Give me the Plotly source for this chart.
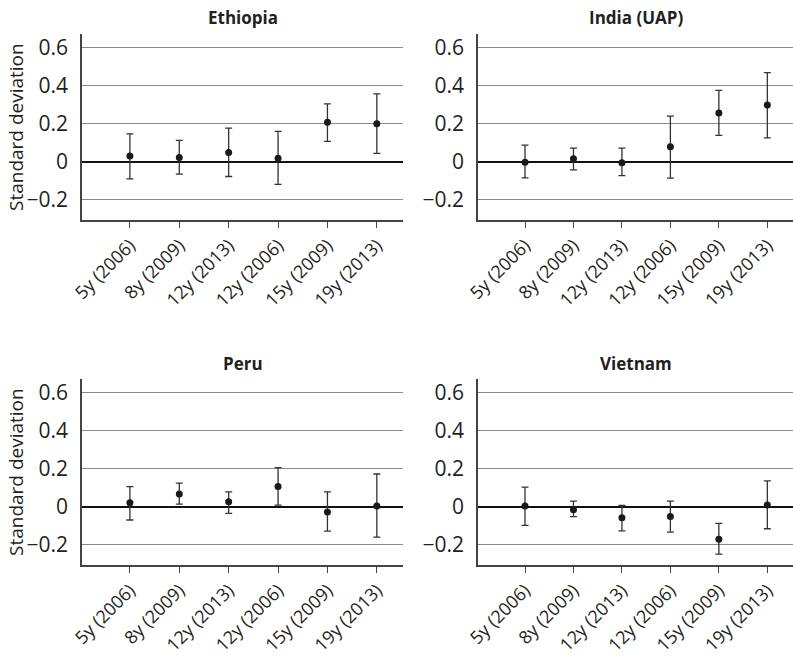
import plotly.graph_objects as go

categories = ["5y (2006)", "8y (2009)", "12y (2013)", "12y (2006)", "15y (2009)", "19y (2013)"]
countries = ["Ethiopia", "India (UAP)", "Peru", "Vietnam"]

ethiopia_est = [0.030, 0.023, 0.049, 0.019, 0.207, 0.200]
ethiopia_hi = [0.146, 0.112, 0.177, 0.160, 0.304, 0.356]
ethiopia_lo = [-0.089, -0.065, -0.077, -0.118, 0.107, 0.044]

india_est = [-0.002, 0.016, -0.005, 0.079, 0.256, 0.298]
india_hi = [0.088, 0.072, 0.072, 0.240, 0.375, 0.468]
india_lo = [-0.084, -0.042, -0.072, -0.086, 0.139, 0.125]

peru_est = [0.021, 0.067, 0.027, 0.106, -0.027, 0.004]
peru_hi = [0.106, 0.124, 0.078, 0.205, 0.078, 0.172]
peru_lo = [-0.069, 0.014, -0.034, 0.009, -0.127, -0.159]

vietnam_est = [0.004, -0.016, -0.057, -0.051, -0.170, 0.009]
vietnam_hi = [0.103, 0.030, 0.007, 0.030, -0.087, 0.136]
vietnam_lo = [-0.097, -0.051, -0.126, -0.133, -0.248, -0.115]

y_tickvals = [-0.2, 0, 0.2, 0.4, 0.6]
y_ticktext = ["\u22120.2", "0", "0.2", "0.4", "0.6"]
y_title = "Standard deviation"

series = [
    (ethiopia_est, ethiopia_hi, ethiopia_lo),
    (india_est, india_hi, india_lo),
    (peru_est, peru_hi, peru_lo),
    (vietnam_est, vietnam_hi, vietnam_lo),
]

W, H = 793, 660
FONT = "Open Sans"
TXT = "#231f20"

# window-pixel layout: (x0, x1, ytop, ybottom)
panels = [
    (82, 403, 34, 220),
    (478, 793, 34, 220),
    (82, 403, 379, 565),
    (478, 793, 379, 565),
]


def px(v):
    return v / W


def py(v):
    return (H - v) / H


fig = go.Figure()
annotations = []
for i, ((est, hi, lo), (x0, x1, yt, yb)) in enumerate(zip(series, panels)):
    n = i + 1
    xa = "x" if n == 1 else f"x{n}"
    ya = "y" if n == 1 else f"y{n}"
    fig.add_trace(go.Scatter(
        x=categories, y=est, mode="markers",
        marker=dict(color="#1a1a1a", size=7),
        error_y=dict(type="data", symmetric=False,
                     array=[h - e for h, e in zip(hi, est)],
                     arrayminus=[e - l for e, l in zip(est, lo)],
                     color="#333333", thickness=1.3, width=3.5),
        xaxis=xa, yaxis=ya, showlegend=False, hoverinfo="skip",
    ))
    xkey = "xaxis" if n == 1 else f"xaxis{n}"
    ykey = "yaxis" if n == 1 else f"yaxis{n}"
    fig.update_layout({
        xkey: dict(
            domain=[px(x0), min(1.0, px(x1))], anchor=ya, type="category",
            range=[-0.97, 5.53], tickangle=-45, automargin=False,
            showline=True, linecolor="#444444", linewidth=1.5,
            ticks="outside", ticklen=6, tickcolor="#444444", tickwidth=1.3,
            showgrid=False, zeroline=False,
            tickfont=dict(family=FONT, size=18, color=TXT),
            fixedrange=True,
        ),
        ykey: dict(
            domain=[py(yb), py(yt)], anchor=xa,
            range=[-0.305, 0.67], automargin=False,
            tickvals=y_tickvals, ticktext=y_ticktext,
            showline=True, linecolor="#444444", linewidth=1.5,
            ticks="", ticklabelstandoff=8,
            showgrid=True, gridcolor="#8c8c8c", gridwidth=1,
            zeroline=True, zerolinecolor="#111111", zerolinewidth=1.5,
            tickfont=dict(family=FONT, size=21, color=TXT),
            fixedrange=True,
        ),
    })
    annotations.append(dict(
        text=f"<b>{countries[i]}</b>", x=px((x0 + x1) / 2), y=py(yt - 16),
        xref="paper", yref="paper", showarrow=False,
        font=dict(family=FONT, size=17, color=TXT), xanchor="center", yanchor="middle",
    ))
    if i % 2 == 0:
        annotations.append(dict(
            text=y_title, x=px(16), y=py((yt + yb) / 2),
            xref="paper", yref="paper", showarrow=False, textangle=-90,
            font=dict(family=FONT, size=19, color=TXT), xanchor="center", yanchor="middle",
        ))

fig.update_layout(
    width=W, height=H, margin=dict(l=0, r=0, t=0, b=0),
    plot_bgcolor="white", paper_bgcolor="white",
    annotations=annotations, hovermode=False,
)
fig.write_html(
    "out.html",
    config={"displayModeBar": False},
    post_script="document.body.style.margin='0';document.body.style.overflow='hidden';",
)
